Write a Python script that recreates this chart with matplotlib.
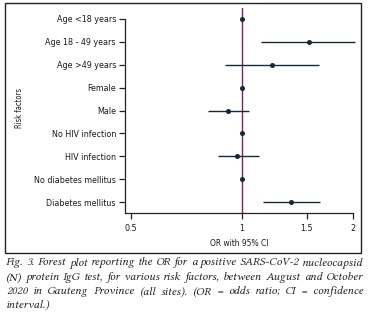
import matplotlib
matplotlib.use("Agg")
import matplotlib.pyplot as plt
from matplotlib.patches import Rectangle
import numpy as np

categories = ["Age <18 years", "Age 18 - 49 years", "Age >49 years", "Female", "Male",
              "No HIV infection", "HIV infection", "No diabetes mellitus", "Diabetes mellitus"]
odds_ratio = [1.0, 1.52, 1.21, 1.0, 0.92, 1.0, 0.97, 1.0, 1.36]
ci_low = [1.0, 1.13, 0.90, 1.0, 0.81, 1.0, 0.86, 1.0, 1.14]
ci_high = [1.0, 2.03, 1.62, 1.0, 1.045, 1.0, 1.11, 1.0, 1.63]
xticks = [0.5, 1, 1.5, 2]
xticklabels = ["0.5", "1", "1.5", "2"]
caption_lines = [
    "Fig. 3. Forest plot reporting the OR for a positive SARS-CoV-2 nucleocapsid",
    "(N) protein IgG test, for various risk factors, between August and October",
    "2020 in Gauteng Province (all sites). (OR = odds ratio; CI = confidence",
    "interval.)",
]

W, H = 369, 327
fig = plt.figure(figsize=(W / 100, H / 100), dpi=100)
sans_kw = dict(family="DejaVu Sans", stretch="condensed")

def fx(px):
    return px / W

def fy(py):
    return 1 - py / H

# outer box
fig.patches.append(Rectangle((fx(5), fy(253)), fx(361) - fx(5), fy(3) - fy(253),
                             transform=fig.transFigure, fill=False, lw=1.0, ec="#222222"))

ax = fig.add_axes([fx(125), fy(213), fx(353) - fx(125), fy(8) - fy(213)])
ax.set_xscale("log")
ax.set_xlim(0.483, 2.0)
ax.set_ylim(8.48, -0.48)

y = np.arange(len(categories))
or_arr = np.array(odds_ratio)
lo = or_arr - np.array(ci_low)
hi = np.array(ci_high) - or_arr
ax.axvline(1.0, color="#7a2070", lw=1.0, zorder=1)
ax.errorbar(odds_ratio, y, xerr=[lo, hi], fmt="o", color="#16293a", ms=2.6,
            elinewidth=1.0, capsize=0, clip_on=False, zorder=3)

ax.set_yticks(y)
ax.set_yticklabels(categories, fontsize=6.4, color="#1a1a1a", **sans_kw)
ax.set_xticks(xticks)
ax.set_xticklabels(xticklabels, fontsize=6.4, color="#1a1a1a", **sans_kw)
ax.xaxis.set_minor_locator(matplotlib.ticker.NullLocator())
ax.tick_params(axis="both", length=4, width=0.9, pad=2.5, color="#222222")
ax.tick_params(axis="x", pad=4)
for s in ["top", "right"]:
    ax.spines[s].set_visible(False)
ax.spines["left"].set_bounds(0, 8.48)
for s in ["left", "bottom"]:
    ax.spines[s].set_linewidth(0.9)
    ax.spines[s].set_color("#222222")

ax.set_xlabel("OR with 95% CI", fontsize=6, labelpad=4, color="#1a1a1a", **sans_kw)
fig.text(fx(19), fy(108), "Risk factors", rotation=90, fontsize=5.5,
         ha="center", va="center", color="#1a1a1a", **sans_kw)

# justified caption
fig.canvas.draw()
renderer = fig.canvas.get_renderer()
cap_left, cap_right = 6, 363
line_y = [263, 278, 292, 305]
base_kw = dict(family=["Libertinus Serif", "Liberation Serif"], style="italic",
               color="#222222", va="center", ha="left")
first_words = caption_lines[0].split(" ")
probes = [fig.text(0, 0, w, fontsize=10, **base_kw) for w in first_words]
words10 = sum(p.get_window_extent(renderer).width for p in probes)
for p in probes:
    p.remove()
cap_size = 10 * (cap_right - cap_left - 3.0 * (len(first_words) - 1)) / words10
cap_kw = dict(fontsize=cap_size, **base_kw)
for i, line in enumerate(caption_lines):
    words = line.split(" ")
    if i == len(caption_lines) - 1:
        fig.text(fx(cap_left), fy(line_y[i]), line, **cap_kw)
        continue
    texts = [fig.text(0, 0, w, **cap_kw) for w in words]
    widths = [t.get_window_extent(renderer).width for t in texts]
    gap = (cap_right - cap_left - sum(widths)) / (len(words) - 1)
    xpos = cap_left
    for t, wdt in zip(texts, widths):
        t.set_position((fx(xpos), fy(line_y[i])))
        xpos += wdt + gap

fig.savefig("out.png", dpi=100)
